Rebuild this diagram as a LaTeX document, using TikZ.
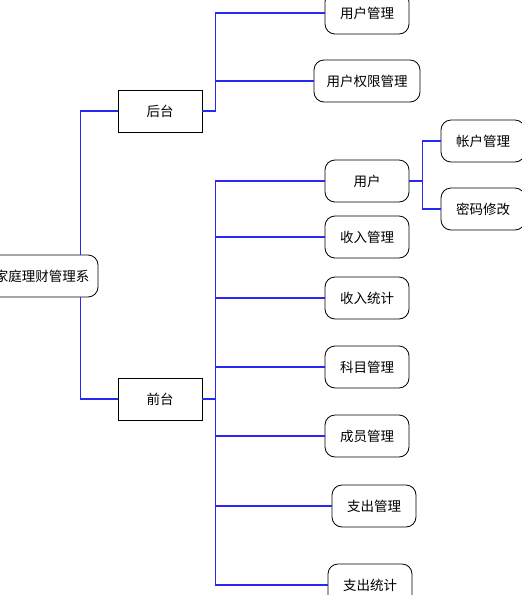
\documentclass[tikz,border=0pt]{standalone}
\usepackage{fontspec}
\newfontfamily\cjk{Noto Sans CJK SC}
\definecolor{linkblue}{RGB}{40,40,240}
\tikzset{
  mod/.style={draw, thick, fill=white, rounded corners=10pt, minimum width=84pt,
    minimum height=42pt, inner sep=2pt, font=\cjk\fontsize{13.5}{15}\selectfont},
  grp/.style={mod, sharp corners},
  link/.style={color=linkblue, line width=1.3pt}
}

\begin{document}
\begin{tikzpicture}[x=1pt, y=-1pt]
\useasboundingbox (0,0) rectangle (522,595);
% root and the two halves
\node[mod, minimum width=112pt] (root) at (42,276) {家庭理财管理系};
\node[grp] (ht) at (160,111) {后台};
\node[grp] (qt) at (160,399) {前台};
\draw[link] ([xshift=-18pt]root.north east) |- (ht.west);
\draw[link] ([xshift=-18pt]root.south east) |- (qt.west);
% back end
\node[mod] (yhgl) at (367,13) {用户管理};
\node[mod, minimum width=106pt] (yhqx) at (367,81) {用户权限管理};
\foreach \n in {yhgl,yhqx}
  \draw[link] (ht.east) -- ++(13,0) |- (\n.west);
% front end
\node[mod] (yh) at (367,181) {用户};
\node[mod] (srgl) at (367,237) {收入管理};
\node[mod] (srtj) at (367,298) {收入统计};
\node[mod] (kmgl) at (367,367) {科目管理};
\node[mod] (cygl) at (367,436) {成员管理};
\node[mod] (zcgl) at (374,506) {支出管理};
\node[mod] (zctj) at (370,585) {支出统计};
\foreach \n in {yh,srgl,srtj,kmgl,cygl,zcgl,zctj}
  \draw[link] (qt.east) -- ++(13,0) |- (\n.west);
% user sub-items
\node[mod] (zhgl) at (483,141) {帐户管理};
\node[mod] (mmxg) at (483,209) {密码修改};
\foreach \n in {zhgl,mmxg}
  \draw[link] (yh.east) -- ++(13,0) |- (\n.west);
\end{tikzpicture}
\end{document}
